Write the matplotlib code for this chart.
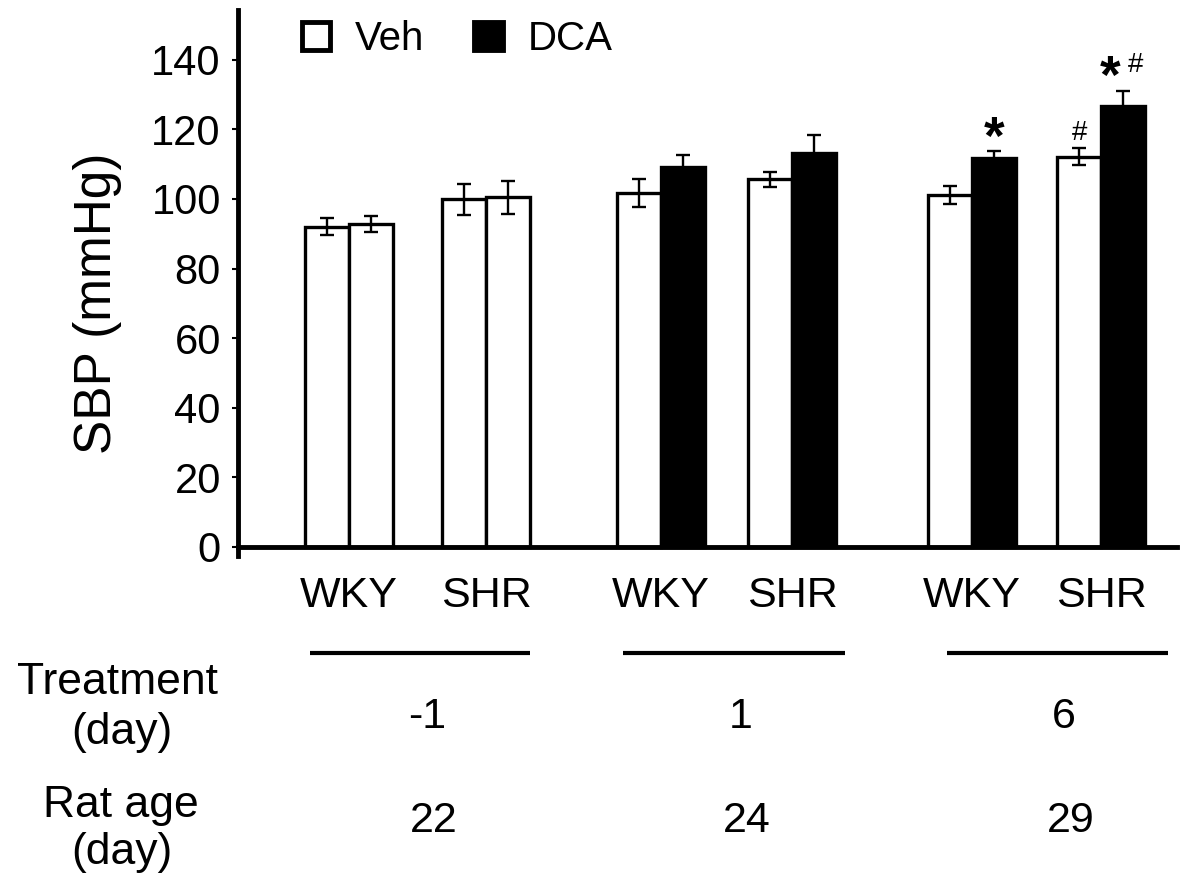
import matplotlib
matplotlib.use('Agg')
import matplotlib.pyplot as plt
import matplotlib.transforms as mtransforms
from matplotlib.patches import Patch

plt.rcParams['font.family'] = ['Liberation Sans', 'DejaVu Sans']

# ---------------- data ----------------
strains = ['WKY', 'SHR', 'WKY', 'SHR', 'WKY', 'SHR']
treatment_day = ['-1', '1', '6']
rat_age = ['22', '24', '29']
series_names = ['Veh', 'DCA']

veh_mean = [92.0, 99.9, 101.8, 105.6, 101.1, 112.2]
veh_err = [2.4, 4.5, 4.0, 2.2, 2.6, 2.4]
dca_mean = [92.8, 100.5, 109.3, 113.1, 111.9, 126.7]
dca_err = [2.2, 4.8, 3.2, 5.3, 1.9, 4.3]

# significance marks: (bar series, bar index, text, value at glyph centre)
marks = [('dca', 4, '*', 121.8), ('veh', 5, '#', 119.8),
         ('dca', 5, '*', 139.2), ('dca', 5, '#', 139.3)]

# ---------------- layout / style ----------------
W, H = 1181, 873
PX = 44.0  # pixels per x data unit
fig = plt.figure(figsize=(W / 100, H / 100), dpi=100)
ax = fig.add_axes([237.5 / W, 1 - 556 / H, (1177 - 237.5) / W, (556 - 10) / H])

pair_x = [2.53, 5.65, 9.63, 12.6, 16.7, 19.63]
bw = 1.0
dca_fill = ['white', 'white', 'black', 'black', 'black', 'black']
veh_x = [p - bw / 2 for p in pair_x]
dca_x = [p + bw / 2 for p in pair_x]

ax.bar(veh_x, veh_mean, width=bw, color='white', edgecolor='black', linewidth=2.4, zorder=2)
ax.bar(dca_x, dca_mean, width=bw, color=dca_fill, edgecolor='black', linewidth=2.4, zorder=2)
for xs, m, e in ((veh_x, veh_mean, veh_err), (dca_x, dca_mean, dca_err)):
    ax.errorbar(xs, m, yerr=e, fmt='none', ecolor='black', elinewidth=1.7,
                capsize=5, capthick=1.7, zorder=3)

ax.set_xlim(0, (1177 - 237.5) / PX)
ax.set_ylim(-2.6, 154.3)
for s in ('top', 'right'):
    ax.spines[s].set_visible(False)
ax.spines['bottom'].set_position(('data', 0))
ax.spines['left'].set_linewidth(3.5)
ax.spines['bottom'].set_linewidth(3.5)

ax.set_yticks(range(0, 141, 20))
ax.tick_params(axis='y', direction='out', length=4, width=1.5, pad=8, labelsize=30)
ax.set_xticks(pair_x)
ax.set_xticklabels(strains)
ax.tick_params(axis='x', length=0, pad=21, labelsize=31)

# significance symbols
xs_map = {'veh': veh_x, 'dca': dca_x}
for series, idx, txt, yc in marks:
    x = xs_map[series][idx]
    if txt == '*':
        fs, wt, k = 38, 'bold', 0.58
    else:
        fs, wt, k = 20, 'normal', 0.36
    dx = 0
    if series == 'dca' and idx == 5:
        dx = -9.4 if txt == '*' else 9.0
    ax.annotate(txt, xy=(x, yc), xytext=(dx, -k * fs), textcoords='offset points',
                ha='center', va='baseline', fontsize=fs, fontweight=wt)

# group lines and day labels below the axis
trans = mtransforms.blended_transform_factory(ax.transData, fig.transFigure)
line_start = [1.65, 8.76, 16.13]
line_end = [6.65, 13.81, 21.15]
for i in range(3):
    s, e = line_start[i], line_end[i]
    ax.plot([s, e], [1 - 653 / H, 1 - 653 / H], transform=trans, clip_on=False,
            color='black', lw=3, solid_capstyle='butt')
    c = (s + e) / 2
    ax.text(c + 0.15, 1 - 728 / H, treatment_day[i], transform=trans,
            ha='center', va='baseline', fontsize=31)
    ax.text(c + 0.3, 1 - 832 / H, rat_age[i], transform=trans,
            ha='center', va='baseline', fontsize=31)

fig.text(118 / W, 1 - 694 / H, 'Treatment', ha='center', va='baseline', fontsize=32)
fig.text(122 / W, 1 - 744 / H, '(day)', ha='center', va='baseline', fontsize=32)
fig.text(121 / W, 1 - 817 / H, 'Rat age', ha='center', va='baseline', fontsize=32)
fig.text(122 / W, 1 - 864 / H, '(day)', ha='center', va='baseline', fontsize=32)

fig.text(98 / W, 1 - 303 / H, 'SBP (mmHg)', rotation=90, ha='center', va='center', fontsize=37)

handles = [Patch(facecolor='white', edgecolor='black', linewidth=3.5),
           Patch(facecolor='black', edgecolor='black', linewidth=3.5)]
fig.legend(handles, series_names, loc='upper left', bbox_to_anchor=(302 / W, 1 - 20 / H),
           ncol=2, frameon=False, fontsize=29, handlelength=0.7, handleheight=0.7,
           handletextpad=0.62, columnspacing=1.24, borderpad=0, borderaxespad=0)

fig.savefig('out.png', dpi=100)
